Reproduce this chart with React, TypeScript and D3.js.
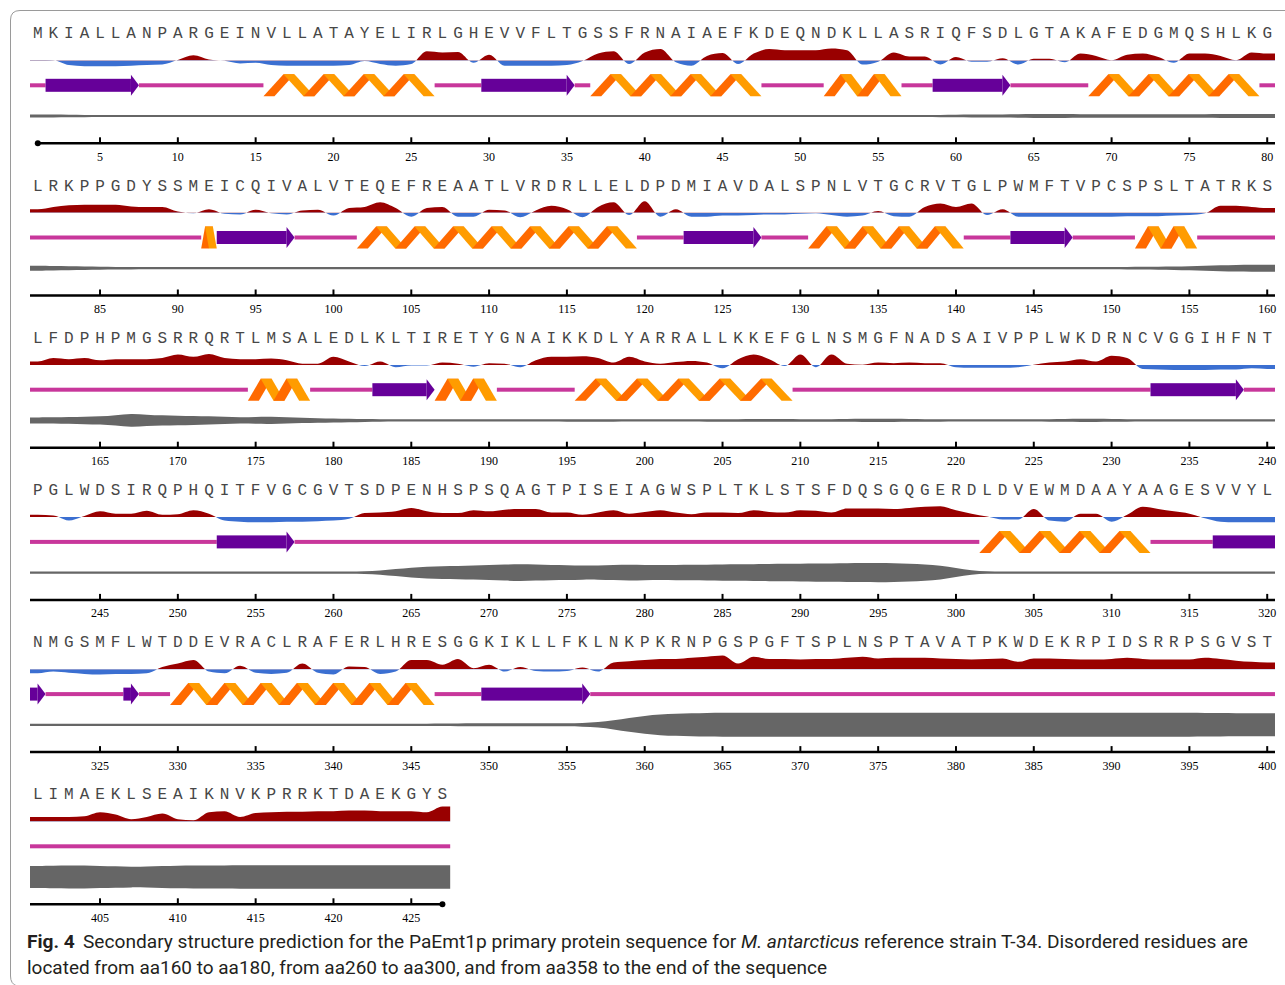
import React from "react";
import * as d3 from "d3";

// ---------- DATA ----------
const sequenceRows: string[] = [
  "MKIALLANPARGEINVLLATAYELIRLGHEVVFLTGSSFRNAIAEFKDEQNDKLLASRIQFSDLGTAKAFEDGMQSHLKG",
  "LRKPPGDYSSMEICQIVALVTEQEFREAATLVRDRLLELDPDMIAVDALSPNLVTGCRVTGLPWMFTVPCSPSLTATRKS",
  "LFDPHPMGSRRQRTLMSALEDLKLTIRETYGNAIKKDLYARRALLKKEFGLNSMGFNADSAIVPPLWKDRNCVGGIHFNT",
  "PGLWDSIRQPHQITFVGCGVTSDPENHSPSQAGTPISEIAGWSPLTKLSTSFDQSGQGERDLDVEWMDAAYAAGESVVYL",
  "NMGSMFLWTDDEVRACLRAFERLHRESGGKIKLLFKLNKPKRNPGSPGFTSPLNSPTAVATPKWDEKRPIDSRRPSGVST",
  "LIMAEKLSEAIKNVKPRRKTDAEKGYS",
];

const helixRanges: [number, number][] = [
  [16, 26], [37, 47], [52, 56], [69, 79], [92, 92], [102, 119], [131, 140], [152, 155],
  [175, 178], [187, 190], [196, 209], [302, 312], [330, 346],
];
const strandRanges: [number, number][] = [
  [2, 7], [30, 35], [59, 63], [93, 97], [123, 127], [144, 147], [183, 186], [233, 238],
  [253, 257], [317, 321], [327, 327], [350, 356],
];

// prediction track (positive = red above, negative = blue below)
const predRow1 = [
  0.5, 0.3, -4, -5, -5, -5, -4.5, -4, -3.5, 0.5,
  4.5, 0.8, -0.3, -2.5, -2, -4, -4.5, -4.5, -4.5, -4.5,
  -4, -0.5, -3, -4.5, -3, 8, 7, 7.5, -2, 5,
  -4.5, -4.5, -4.5, -4.5, -4, -0.5, 6, 8, -3, 7,
  10, -1.5, -4.5, 4, 6.5, -3, 6, 10, 9, 9,
  9, 10.5, 9, -3.5, -1, 7, 3.5, 3.5, -3.5, 3,
  -1, -1, 2, -3.5, 1.5, 1.5, -1.5, 6, 4, 0.2,
  5, 6, 3, -2, 6, 6, 4, 0.3, 7, 6,
];
const predRow2 = [
  3, 5, 6.5, 7, 7, 7, 5.5, 5, 5, 1,
  -0.5, 3, -1, -1.5, 2.5, -0.5, -1.5, 2, 2.5, -2.5,
  4, 5, 9, 4, -3.5, 4, 5, -3.5, -3.5, 2.5,
  2, -4, 2, 6, 3, -4, 5, 9, -2, 10,
  -3.5, 3, -3.5, -3.5, -2.5, -2.5, -2, -1.5, -1.5, -1,
  -0.5, -2, -3.5, -2.5, 1.5, -3, -3.5, 5, 8, 5,
  8, -2, 3, -3.5, -3.5, -3.5, -3.5, -3.5, -3.5, -3.5,
  -3, -3, -3, -2.5, -2, -0.5, 6, 6, 5, 4,
];
const predRow3 = [
  3, 6, 5, 6, 4, 5, 5, 5, 6, 9,
  7, 9.5, 6, 5, 5, 5.5, 4, 1, 1, 7,
  3, -1, 3, -2, -0.5, -0.5, 2, 1, -1.5, 1.5,
  1, -2, 4, 7, 7, 7.5, 6, 2, 7, 3,
  1, 2.5, 3.5, 2, -3, 5, 9, 5, -1, 9,
  -2, 9, 1, 0.2, 2, 1.5, 2, 1.5, 1.5, -2,
  -2.5, -2.5, -2.5, -2, 0.2, 2, 3, 5, 3, 8,
  6, -3.5, -4, -4.5, -4.5, -4.5, -4, -4, -3, -3.5,
];
const predRow4 = [
  2, 1.5, -3, 1, 5, 3, 3, 5.5, 2, 2.5,
  6, 3, -3, -4, -4.5, -4.5, -4, -4, -3.5, -3,
  -1.5, 3.5, 4, 5, 8, 5, 3.5, 3.5, 6, 5,
  6.5, 7, 7, 4, 4, 2, 4, 6, 3, 4.5,
  6, 4, 2.5, 4, 4, 3.5, 6, 4.5, 4, 6,
  5.5, 4, 7.5, 7.5, 7.5, 7, 8, 9, 9.5, 6,
  3, 0.5, -2, -2, 7, -3, -4, 3, 3, -4,
  2, 9, 7, 5, 3, -1, -4, -4.5, -4.5, -4.5,
];
const predRow5 = [
  -3.5, -2, -3, -4, -4.5, -4, -4, -3.5, 2, 5,
  8, -2, -3.5, 3, -3, -4, -3, 5, -3, -4.5,
  2.5, 2, -4, -2, 8, 8, 4, 9, 1, 4,
  -2, 2, -1.5, -2, -1.5, 1.5, -2, 6, 7, 8,
  9, 9, 10, 11, 12, 5, 11, 9, 9, 8.5,
  9, 9, 10, 11, 9.5, 10, 10, 10, 9.5, 9,
  8.5, 9, 9.5, 6.5, 9.5, 9.5, 9, 8.5, 8.5, 9,
  10, 9, 8.5, 8.5, 8.5, 10, 9, 7.5, 6.5, 6,
];
const predRow6 = [
  4, 4, 4, 4.5, 8, 6, 2, 4, 7, 2,
  1, 8, 9, 4, 7.5, 8, 8.5, 8.5, 9, 9,
  9.5, 9.5, 9, 9, 9, 8, 13,
];

// disorder track (band thickness)
const disorderRow1 = [
  3, 2.8, 2.5, 2.2, 2.2, 2.2, 2.2, 2.2, 2.2, 2.2,
  2.2, 2.2, 2.2, 2.2, 2.2, 2.2, 2.2, 2.2, 2.2, 2.2,
  2.2, 2.2, 2.2, 2.2, 2.2, 2.2, 2.2, 2.2, 2.2, 2.2,
  2.2, 2.2, 2.2, 2.2, 2.2, 2.2, 2.2, 2.2, 2.2, 2.2,
  2.2, 2.2, 2.2, 2.2, 2.2, 2.2, 2.2, 2.2, 2.2, 2.2,
  2.2, 2.2, 2.2, 2.2, 2.2, 2.2, 2.2, 2.2, 2.2, 2.5,
  2.8, 3, 3.2, 3.5, 4, 4, 3.8, 3.5, 3.5, 3.5,
  3.5, 3.5, 3.5, 3.5, 3.5, 3.5, 3.8, 4, 4, 4,
];
const disorderRow2 = [
  5, 4.5, 4, 3.5, 3, 2.6, 2.4, 2.2, 2.2, 2.2,
  2.2, 2.2, 2.2, 2.2, 2.2, 2.2, 2.2, 2.2, 2.2, 2.2,
  2.2, 2.2, 2.2, 2.2, 2.2, 2.2, 2.2, 2.2, 2.2, 2.2,
  2.2, 2.2, 2.2, 2.2, 2.2, 2.2, 2.2, 2.2, 2.2, 2.2,
  2.2, 2.2, 2.2, 2.2, 2.2, 2.2, 2.2, 2.2, 2.2, 2.2,
  2.2, 2.2, 2.2, 2.2, 2.2, 2.2, 2.2, 2.2, 2.2, 2.2,
  2.2, 2.2, 2.2, 2.2, 2.2, 2.2, 2.2, 2.2, 2.2, 2.2,
  2.5, 2.8, 3, 3.5, 4, 5, 6, 6.5, 7, 7,
];
const disorderRow3 = [
  6, 6, 7, 7.5, 8, 10, 14, 11, 10, 9.5,
  9, 8.5, 7.5, 6, 7, 7.5, 6, 5, 4.5, 4,
  3.5, 3, 2.5, 2.2, 2.2, 2.2, 2.2, 2.2, 2.2, 2.2,
  2.2, 2.2, 2.2, 2.2, 2.5, 2.5, 2.5, 2.5, 2.2, 2.2,
  2.2, 2.2, 2.2, 2.5, 2.5, 2.5, 2.8, 2.8, 2.8, 2.5,
  2.5, 2.5, 2.8, 3.2, 3.5, 3.2, 2.8, 2.5, 2.5, 2.2,
  2.2, 2.2, 2.2, 2.2, 2.2, 2.5, 2.8, 3.2, 3.2, 2.8,
  2.5, 2.2, 2.2, 2.2, 2.2, 2.2, 2.2, 2.2, 2.2, 2.2,
];
const disorderRow4 = [
  2.2, 2.2, 2.2, 2.2, 2.2, 2.2, 2.2, 2.2, 2.2, 2.2,
  2.2, 2.2, 2.2, 2.2, 2.2, 2.2, 2.2, 2.2, 2.2, 2.2,
  2.2, 2.5, 4, 7, 10, 12, 13, 13, 14, 15,
  16, 17, 16, 15, 15, 14, 14, 15, 16, 15,
  15, 15, 15.5, 16, 16, 16.5, 17, 17, 17.5, 18,
  18, 18.5, 18.5, 19, 19.5, 19, 18, 16.5, 14, 9,
  4, 2.2, 2.2, 2.2, 2.2, 2.2, 2.2, 2.2, 2.2, 2.2,
  2.2, 2.2, 2.2, 2.2, 2.2, 2.2, 2.2, 2.2, 2.2, 2.2,
];
const disorderRow5 = [
  2.2, 2.2, 2.2, 2.2, 2.2, 2.2, 2.2, 2.2, 2.2, 2.2,
  2.2, 2.2, 2.2, 2.2, 2.2, 2.2, 2.2, 2.2, 2.2, 2.2,
  2.2, 2.2, 2.2, 2.2, 2.2, 2.2, 2.5, 2.8, 3, 3,
  3, 3, 3, 3, 3, 3.5, 5, 9, 14, 18,
  21, 22, 23, 23.5, 24, 24, 24, 24, 24, 24,
  24, 24, 24, 24, 24, 24, 24, 24, 24, 24,
  24, 24, 24, 24, 24, 24, 24, 24, 24, 24,
  24, 24, 24, 24, 24, 23.5, 23.5, 23, 23, 23,
];
const disorderRow6 = [
  22, 22.5, 23, 23, 22, 21.5, 20.5, 21, 22, 22.5,
  23, 23, 23, 23.5, 23.5, 23.5, 23.5, 23.5, 23.5, 23.5,
  23.5, 23.5, 23.5, 23.5, 23.5, 23.5, 23.5,
];

const predRows = [predRow1, predRow2, predRow3, predRow4, predRow5, predRow6];
const disorderRows = [disorderRow1, disorderRow2, disorderRow3, disorderRow4, disorderRow5, disorderRow6];

const tickStep = 5;
const RES_PER_ROW = 80;
const ROW_STEP = 152.2;

const COLORS = {
  red: "#990000",
  blue: "#3b6fd1",
  coil: "#c8379b",
  strand: "#660099",
  helixA: "#ff6a00",
  helixB: "#ff9c00",
  disorder: "#666666",
};

type Run = { type: string; j0: number; j1: number; g0: number; g1: number };

export default function App() {
  const total = sequenceRows.join("").length;
  const ss: string[] = new Array(total + 2).fill("C");
  helixRanges.forEach(([a, b]) => { for (let i = a; i <= b; i++) ss[i] = "H"; });
  strandRanges.forEach(([a, b]) => { for (let i = a; i <= b; i++) ss[i] = "E"; });

  const x = d3.scaleLinear().domain([0.5, RES_PER_ROW + 0.5]).range([30, 1275]);
  const py = d3.scaleLinear().domain([-10, 10]).range([11.5, -11.5]);
  const lastRow = sequenceRows.length - 1;

  const rows = sequenceRows.map((seq, k) => {
    const oy = k * ROW_STEP;
    const n = seq.length;
    const first = k * RES_PER_ROW + 1;
    const pred = predRows[k];
    const dis = disorderRows[k];
    const base = 60.5 + oy;
    const sc = 85.3 + oy;
    const dc = 116 + oy;
    const ay = 143.3 + oy;
    const xStart = x(0.5);
    const xEnd = x(n + 0.5);

    const predPts: [number, number][] = [[xStart, pred[0]], ...pred.map((v, i) => [x(i + 1), v] as [number, number]), [xEnd, pred[n - 1]]];
    const predPath = d3.area<[number, number]>()
      .x((d) => d[0]).y0(base).y1((d) => base + py(d[1]))
      .curve(d3.curveMonotoneX)(predPts) || "";

    const disPts: [number, number][] = [[xStart, dis[0]], ...dis.map((v, i) => [x(i + 1), v] as [number, number]), [xEnd, dis[n - 1]]];
    const disPath = d3.area<[number, number]>()
      .x((d) => d[0]).y0((d) => dc - d[1] / 2).y1((d) => dc + d[1] / 2)
      .curve(d3.curveBasis)(disPts) || "";

    // structure runs
    const runs: Run[] = [];
    for (let j = 1; j <= n; j++) {
      const g = first + j - 1;
      const t = ss[g];
      const last = runs[runs.length - 1];
      if (last && last.type === t) { last.j1 = j; last.g1 = g; }
      else runs.push({ type: t, j0: j, j1: j, g0: g, g1: g });
    }

    const shapes: React.ReactNode[] = [];
    runs.forEach((r, ri) => {
      const x0 = x(r.j0 - 0.5);
      const x1 = x(r.j1 + 0.5);
      if (r.type === "C") {
        shapes.push(<rect key={`c${ri}`} x={x0} y={sc - 2} width={x1 - x0} height={4} fill={COLORS.coil} />);
      } else if (r.type === "E") {
        const hasHead = ss[r.g1 + 1] !== "E";
        const headLen = 8;
        const bodyEnd = hasHead ? x1 - headLen : x1;
        shapes.push(<rect key={`eb${ri}`} x={x0} y={sc - 6.5} width={Math.max(0, bodyEnd - x0)} height={13} fill={COLORS.strand} />);
        if (hasHead) {
          shapes.push(
            <polygon key={`eh${ri}`} points={`${bodyEnd},${sc - 10.5} ${x1},${sc} ${bodyEnd},${sc + 10.5}`} fill={COLORS.strand} />
          );
        }
      } else {
        const len = x1 - x0;
        const w = Math.min(11, len / 2);
        const amp = 11;
        const nT = Math.max(1, Math.round(len / 40));
        const step = (len - w) / (2 * nT);
        const verts = d3.range(2 * nT + 1).map((i) => [x0 + w / 2 + i * step, i % 2 === 0 ? sc + amp : sc - amp]);
        for (let i = 0; i < 2 * nT; i++) {
          const [ax, ayv] = verts[i];
          const [bx, by] = verts[i + 1];
          shapes.push(
            <polygon
              key={`h${ri}_${i}`}
              points={`${ax - w / 2},${ayv} ${ax + w / 2},${ayv} ${bx + w / 2},${by} ${bx - w / 2},${by}`}
              fill={i % 2 === 0 ? COLORS.helixA : COLORS.helixB}
            />
          );
        }
      }
    });

    const axisX0 = k === 0 ? x(1) : xStart;
    const axisX1 = k === lastRow ? x(n) : xEnd;
    const ticks = d3.range(1, n + 1).filter((j) => (first + j - 1) % tickStep === 0);

    return (
      <g key={k}>
        <defs>
          <clipPath id={`up${k}`}><rect x={0} y={base - 40} width={1285} height={40} /></clipPath>
          <clipPath id={`dn${k}`}><rect x={0} y={base} width={1285} height={40} /></clipPath>
        </defs>
        {/* sequence */}
        {seq.split("").map((ch, i) => (
          <text key={i} x={x(i + 1)} y={38.3 + oy} textAnchor="middle" fontFamily="'Liberation Mono', 'DejaVu Sans Mono', monospace" fontSize={16} fill="#474747">{ch}</text>
        ))}
        {/* prediction */}
        <path d={predPath} fill={COLORS.red} clipPath={`url(#up${k})`} />
        <path d={predPath} fill={COLORS.blue} clipPath={`url(#dn${k})`} />
        {/* structure */}
        {shapes}
        {/* disorder */}
        <path d={disPath} fill={COLORS.disorder} />
        {/* axis */}
        <line x1={axisX0} x2={axisX1} y1={ay} y2={ay} stroke="#000" strokeWidth={2.5} />
        {k === 0 && <circle cx={x(1)} cy={ay} r={3} fill="#000" />}
        {k === lastRow && <circle cx={x(n)} cy={ay} r={3} fill="#000" />}
        {ticks.map((j) => (
          <g key={j}>
            <line x1={x(j)} x2={x(j)} y1={ay} y2={ay - 6} stroke="#000" strokeWidth={2} />
            <text x={x(j)} y={ay + 17.5} textAnchor="middle" fontFamily="'Liberation Serif', 'DejaVu Serif', serif" fontSize={12} fill="#000">{first + j - 1}</text>
          </g>
        ))}
      </g>
    );
  });

  return (
    <svg width={1285} height={985} style={{ position: "absolute", left: 0, top: 0, display: "block" }}>
      <rect x={0} y={0} width={1285} height={985} fill="#fff" />
      <path d="M1285,10.5 L20,10.5 Q10.5,10.5 10.5,20 L10.5,976 Q10.5,984 17,986" fill="none" stroke="#9a9a9a" strokeWidth={1} />
      {rows}
      <text x={27} y={948} fontFamily="Roboto, 'Noto Sans', sans-serif" fontSize={18.5} fill="#231f20" textLength={1221} lengthAdjust="spacingAndGlyphs">
        <tspan fontWeight="bold">Fig. 4</tspan>
        <tspan dx={8}>Secondary structure prediction for the PaEmt1p primary protein sequence for </tspan>
        <tspan fontStyle="italic">M. antarcticus</tspan>
        <tspan> reference strain T-34. Disordered residues are</tspan>
      </text>
      <text x={27} y={974} fontFamily="Roboto, 'Noto Sans', sans-serif" fontSize={18.5} fill="#231f20" textLength={800} lengthAdjust="spacingAndGlyphs">
        located from aa160 to aa180, from aa260 to aa300, and from aa358 to the end of the sequence
      </text>
    </svg>
  );
}
